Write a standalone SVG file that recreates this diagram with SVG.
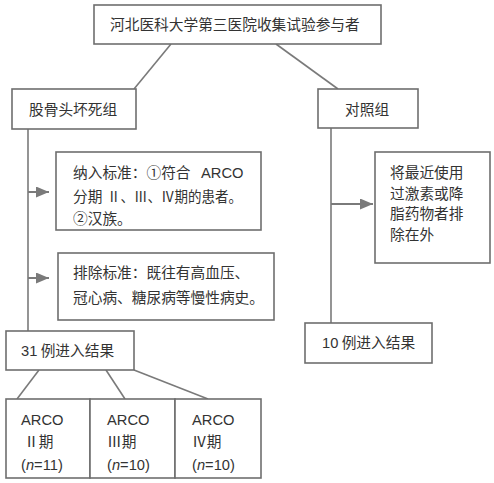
<svg xmlns="http://www.w3.org/2000/svg" width="494" height="483" viewBox="0 0 494 483">
<style>
.box{fill:#fff;stroke:#6e6e6e;stroke-width:1.6}
.ln{stroke:#7a7a7a;stroke-width:1.6;fill:none}
.ar{stroke:#7a7a7a;stroke-width:2;fill:none}
.t{font-family:"Noto Sans CJK SC","Liberation Sans",sans-serif;font-size:14.7px;fill:#333}
.a{font-family:"Liberation Sans","Noto Sans CJK SC",sans-serif;font-size:14.7px;fill:#333}
</style>
<defs>
<marker id="arr" viewBox="0 0 13 11" refX="13" refY="5.5" markerWidth="13" markerHeight="11" markerUnits="userSpaceOnUse" orient="auto">
<path d="M0,0 L13,5.5 L0,11 Z" fill="#7a7a7a"/>
</marker>
</defs>
<rect width="494" height="483" fill="#fff"/>
<g id="connectors">
<line class="ln" x1="171" y1="44" x2="134" y2="89"/>
<line class="ln" x1="276" y1="44" x2="338" y2="89"/>
<line class="ln" x1="28" y1="129" x2="28" y2="331"/>
<line class="ln" x1="331" y1="128" x2="331" y2="323"/>
<line class="ar" x1="28" y1="192" x2="49" y2="192" marker-end="url(#arr)"/>
<line class="ar" x1="28" y1="278" x2="49" y2="278" marker-end="url(#arr)"/>
<line class="ar" x1="331" y1="204" x2="373" y2="204" marker-end="url(#arr)"/>
<line class="ln" x1="39" y1="370" x2="17" y2="399"/>
<line class="ln" x1="106" y1="370" x2="125" y2="399"/>
<line class="ln" x1="134" y1="370" x2="208" y2="399"/>
</g>
<g id="top">
<rect class="box" x="94" y="5" width="287" height="39"/>
<text class="t" x="110" y="30">河北医科大学第三医院收集试验参与者</text>
</g>
<g id="onfh">
<rect class="box" x="12" y="89" width="124" height="40"/>
<text class="t" x="29" y="115">股骨头坏死组</text>
</g>
<g id="control">
<rect class="box" x="318" y="89" width="100" height="39"/>
<text class="t" x="345" y="115">对照组</text>
</g>
<g id="inclusion">
<rect class="box" x="56" y="152" width="205" height="78"/>
<text class="t" x="73" y="178">纳入标准：①符合<tspan class="a" x="201">ARCO</tspan></text>
<text class="t" x="73" y="202">分期<tspan x="107" textLength="135" lengthAdjust="spacingAndGlyphs">Ⅱ、Ⅲ、Ⅳ期的患者。</tspan></text>
<text class="t" x="73" y="224">②汉族。</text>
</g>
<g id="exclusion">
<rect class="box" x="58" y="253" width="216" height="67"/>
<text class="t" x="73" y="278">排除标准：既往有高血压、</text>
<text class="t" x="73" y="303">冠心病、糖尿病等慢性病史。</text>
</g>
<g id="exclude-ctrl">
<rect class="box" x="375" y="152" width="115" height="111"/>
<text class="t" x="390" y="178">将最近使用</text>
<text class="t" x="390" y="198.5">过激素或降</text>
<text class="t" x="390" y="219">脂药物者排</text>
<text class="t" x="390" y="240">除在外</text>
</g>
<g id="res31">
<rect class="box" x="6" y="331" width="128" height="39"/>
<text class="t" x="21" y="356"><tspan class="a">31</tspan> 例进入结果</text>
</g>
<g id="res10">
<rect class="box" x="305" y="323" width="127" height="40"/>
<text class="t" x="322" y="348"><tspan class="a">10</tspan> 例进入结果</text>
</g>
<g id="stage2">
<rect class="box" x="6" y="399" width="84" height="79"/>
<text class="a" x="21" y="425">ARCO</text>
<text class="t" x="24" y="447">Ⅱ期</text>
<text class="a" x="21" y="470">(<tspan font-style="italic">n</tspan>=11)</text>
</g>
<g id="stage3">
<rect class="box" x="90" y="399" width="85" height="79"/>
<text class="a" x="107" y="425">ARCO</text>
<text class="t" x="107" y="447">Ⅲ期</text>
<text class="a" x="107" y="470">(<tspan font-style="italic">n</tspan>=10)</text>
</g>
<g id="stage4">
<rect class="box" x="175" y="399" width="86" height="79"/>
<text class="a" x="192" y="425">ARCO</text>
<text class="t" x="192" y="447">Ⅳ期</text>
<text class="a" x="192" y="470">(<tspan font-style="italic">n</tspan>=10)</text>
</g>
</svg>
